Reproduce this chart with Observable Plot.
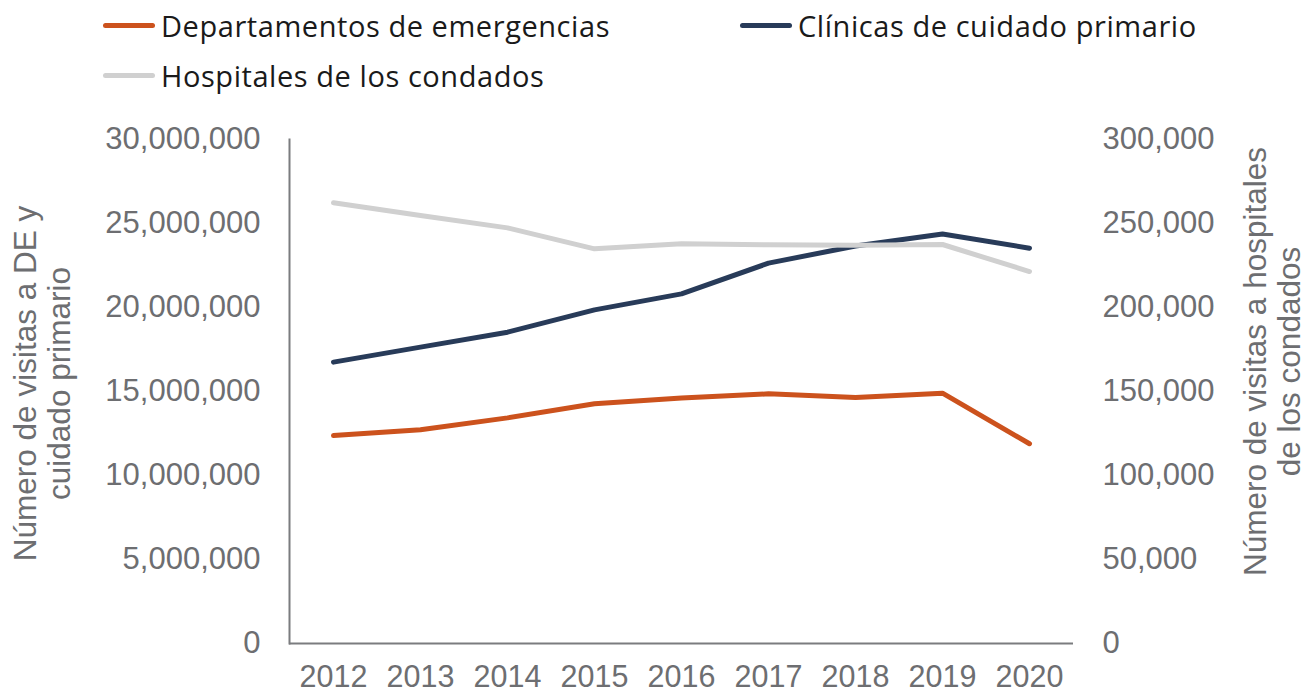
<!DOCTYPE html>
<html>
<head>
<meta charset="utf-8">
<script src="https://cdn.jsdelivr.net/npm/d3@7"></script>
<script src="https://cdn.jsdelivr.net/npm/@observablehq/plot@0.6"></script>
<style>
  html, body { margin: 0; padding: 0; background: #fff; }
  #wrap { width: 1306px; height: 696px; position: relative; overflow: hidden; }
  #legend { position: relative; width: 1306px; height: 100px; font-family: "Open Sans", "Lato", sans-serif; font-size: 29px; color: #1a1a1a; }
  .item { position: absolute; display: flex; align-items: center; white-space: nowrap; }
  .sw { width: 52px; height: 5px; border-radius: 3px; margin-right: 6px; flex: none; }
</style>
</head>
<body>
<div id="wrap">
  <div id="legend"></div>
  <div id="chart"></div>
</div>
<script>
const years = [2012, 2013, 2014, 2015, 2016, 2017, 2018, 2019, 2020];
const edVisits = [12380000, 12720000, 13430000, 14270000, 14620000, 14860000, 14640000, 14900000, 11890000];
const primaryVisits = [16750000, 17640000, 18530000, 19860000, 20810000, 22640000, 23660000, 24380000, 23530000];
const countyVisits = [262300, 254800, 247400, 234900, 237900, 237300, 237100, 237500, 221400];
const seriesNames = ["Departamentos de emergencias", "Clínicas de cuidado primario", "Hospitales de los condados"];
const seriesColors = ["#CC521D", "#283B59", "#D0D0D0"];
const leftTicks = [0, 5000000, 10000000, 15000000, 20000000, 25000000, 30000000];
const rightTicks = [0, 50000, 100000, 150000, 200000, 250000, 300000];
const leftTitle = "Número de visitas a DE y\ncuidado primario";
const rightTitle = "Número de visitas a hospitales\nde los condados";

// right axis ratio (right scale -> left scale)
const ratio = 100;

const rows = [];
years.forEach((y, i) => {
  rows.push({year: y, series: seriesNames[0], v: edVisits[i]});
  rows.push({year: y, series: seriesNames[1], v: primaryVisits[i]});
  rows.push({year: y, series: seriesNames[2], v: countyVisits[i] * ratio});
});

// legend
const legendPos = [[103, 25], [740, 25], [103, 75]];
const legend = document.getElementById("legend");
const texts = [];
seriesNames.forEach((n, i) => {
  const it = document.createElement("div");
  it.className = "item";
  it.style.left = legendPos[i][0] + "px";
  it.style.top = (legendPos[i][1] - 20) + "px";
  it.style.height = "40px";
  const sw = document.createElement("span");
  sw.className = "sw";
  sw.style.background = seriesColors[i];
  const tx = document.createElement("span");
  tx.textContent = n;
  it.appendChild(sw); it.appendChild(tx);
  legend.appendChild(it);
  texts.push(tx);
});
// fit the first legend label to the reference width (~449px)
const w0 = texts[0].getBoundingClientRect().width;
const ls = Math.max(-1, Math.min(1, (449 - w0) / seriesNames[0].length));
texts.forEach(t => t.style.letterSpacing = ls.toFixed(2) + "px");

const axisColor = "#7b7c7f";
const labelColor = "#6d6e71";
const fmt = d3.format(",");

const chart = Plot.plot({
  width: 1306,
  height: 596,
  marginTop: 39,
  marginBottom: 53,
  marginLeft: 289,
  marginRight: 233,
  style: {fontFamily: "'Liberation Sans', Arial, sans-serif", fontSize: "31px", color: labelColor, background: "#fff"},
  x: {type: "point", domain: years, padding: 0.5},
  y: {domain: [0, 30000000]},
  color: {domain: seriesNames, range: seriesColors},
  marks: [
    Plot.axisX({ticks: years, tickSize: 0, tickPadding: 22, tickFormat: d => String(d), label: null, fontSize: 30.5, fill: labelColor}),
    Plot.axisY({ticks: leftTicks, tickSize: 0, tickPadding: 29, tickFormat: fmt, label: null, anchor: "left", fontSize: 31, fill: labelColor}),
    Plot.axisY({ticks: leftTicks, tickSize: 0, tickPadding: 29, tickFormat: d => fmt(d / ratio), label: null, anchor: "right", fontSize: 31, fill: labelColor}),
    Plot.lineY(rows, {x: "year", y: "v", stroke: "series", strokeWidth: 5, strokeLinecap: "round", strokeLinejoin: "round", z: "series", sort: {series: null}}),
    Plot.ruleY([0], {stroke: axisColor, strokeWidth: 2}),
    Plot.frame({anchor: "left", stroke: axisColor, strokeWidth: 2}),
    Plot.text([leftTitle], {frameAnchor: "left", dx: -247, dy: -8, rotate: -90, textAnchor: "middle", lineAnchor: "middle", lineHeight: 1.08, fontSize: 31.5, fill: labelColor, text: d => d}),
    Plot.text([rightTitle], {frameAnchor: "right", dx: 199, dy: -30, rotate: -90, textAnchor: "middle", lineAnchor: "middle", lineHeight: 1.08, fontSize: 31.5, fill: labelColor, text: d => d})
  ]
});
document.getElementById("chart").appendChild(chart);
</script>
</body>
</html>
